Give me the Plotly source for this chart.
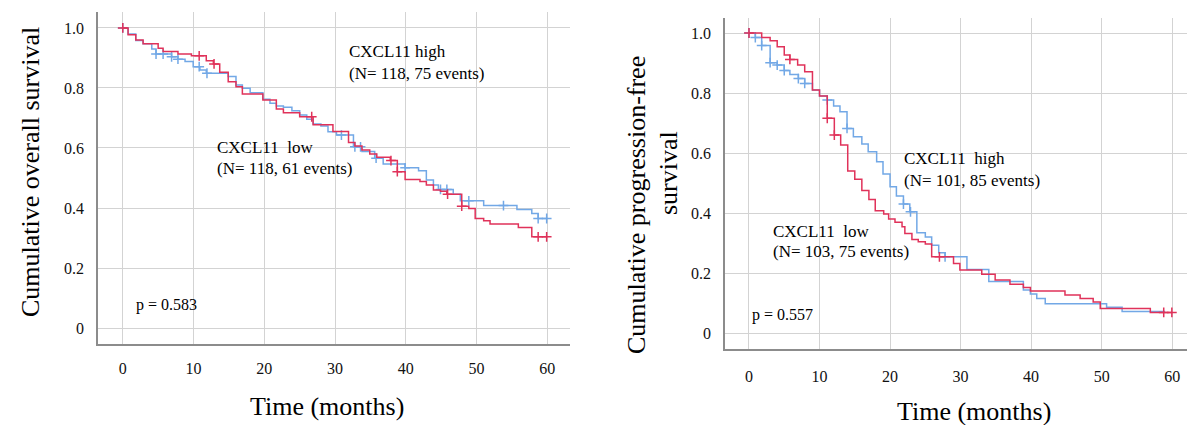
import numpy as np
import plotly.graph_objects as go

# ---------------- data ----------------
# Left panel: overall survival
os_high_t = [0, 0.75, 1.84, 2.87, 5.0, 5.7, 7.8, 9.7, 11.8, 12.8, 13.7, 14.9, 16.0, 16.9, 19.8, 21.7, 22.7,
             25.0, 26.9, 29.7, 31.9, 32.8, 33.8, 34.9, 35.9, 37.8, 38.8, 39.9, 42.0, 42.9, 43.9, 44.9, 45.8,
             47.9, 48.9, 49.8, 51.0, 51.9, 55.9, 57.8]
os_high_s = [1.0, 0.977, 0.96, 0.947, 0.932, 0.921, 0.913, 0.907, 0.891, 0.88, 0.852, 0.821, 0.804, 0.78, 0.76,
             0.73, 0.717, 0.704, 0.677, 0.655, 0.618, 0.607, 0.593, 0.58, 0.569, 0.558, 0.521, 0.495, 0.488,
             0.477, 0.46, 0.456, 0.446, 0.406, 0.398, 0.365, 0.358, 0.347, 0.335, 0.304]
os_high_cens = [0, 10.8, 12.9, 26.7, 37.9, 38.8, 45.9, 47.9, 58.7, 59.9]
os_high_end = 60.0

os_low_t = [0, 0.75, 1.84, 2.87, 4.1, 4.7, 6.9, 7.8, 8.8, 9.95, 10.9, 11.8, 14.9, 16.0, 16.9, 18.0, 19.8, 20.8,
            21.7, 22.7, 23.9, 25.0, 26.0, 26.9, 28.0, 29.0, 30.2, 32.6, 33.8, 35.6, 36.8, 39.9, 41.8, 42.9,
            43.9, 44.6, 46.7, 47.7, 51.0, 55.7, 57.8, 58.7]
os_low_s = [1.0, 0.98, 0.958, 0.947, 0.93, 0.913, 0.904, 0.896, 0.888, 0.871, 0.86, 0.849, 0.838, 0.81, 0.799,
            0.784, 0.762, 0.749, 0.74, 0.736, 0.724, 0.71, 0.696, 0.68, 0.673, 0.654, 0.643, 0.604, 0.588, 0.566,
            0.547, 0.534, 0.524, 0.493, 0.477, 0.462, 0.446, 0.424, 0.408, 0.395, 0.382, 0.365]
os_low_cens = [0, 4.7, 5.7, 6.9, 7.8, 10.8, 11.9, 30.9, 32.8, 33.6, 35.8, 39.9, 44.9, 45.8, 48.9, 53.8, 58.7, 59.9]
os_low_end = 60.0

# Right panel: progression-free survival
pfs_high_t = [0, 1.8, 3.0, 4.0, 5.0, 5.8, 6.9, 7.9, 9.0, 10.0, 11.1, 12.1, 13.0, 14.0, 15.0, 16.0, 17.0, 17.9,
              19.1, 19.8, 20.7, 21.7, 22.1, 23.1, 24.0, 25.0, 25.9, 29.0, 29.9, 33.0, 34.9, 37.0, 38.9, 39.9,
              44.8, 46.95, 48.8, 49.8, 56.9]
pfs_high_s = [1.0, 0.985, 0.974, 0.954, 0.927, 0.912, 0.893, 0.871, 0.81, 0.79, 0.716, 0.66, 0.627, 0.54, 0.513,
              0.475, 0.445, 0.408, 0.397, 0.38, 0.369, 0.354, 0.332, 0.312, 0.304, 0.297, 0.254, 0.232, 0.21,
              0.196, 0.177, 0.163, 0.152, 0.14, 0.127, 0.115, 0.104, 0.082, 0.069]
pfs_high_cens = [0, 5.8, 11.1, 12.1, 27.0, 58.8, 59.95]
pfs_high_end = 60.0

pfs_low_t = [0, 0.9, 1.8, 3.0, 4.0, 5.0, 5.8, 7.0, 7.9, 9.0, 10.0, 11.1, 12.0, 12.9, 13.9, 14.8, 16.0, 16.9,
             18.1, 19.0, 20.0, 20.9, 21.9, 22.8, 23.8, 25.0, 25.9, 26.9, 27.8, 30.9, 34.0, 38.9, 39.9, 40.8,
             42.0, 50.7, 52.9]
pfs_low_s = [1.0, 0.985, 0.958, 0.901, 0.893, 0.875, 0.862, 0.848, 0.832, 0.81, 0.79, 0.777, 0.757, 0.738,
             0.682, 0.654, 0.63, 0.604, 0.571, 0.53, 0.488, 0.457, 0.43, 0.404, 0.334, 0.32, 0.293, 0.268,
             0.254, 0.212, 0.172, 0.144, 0.13, 0.115, 0.098, 0.086, 0.072]
pfs_low_cens = [0, 0.9, 1.8, 3.0, 4.0, 5.0, 7.0, 7.9, 11.1, 13.9, 21.9, 22.9, 27.8]
pfs_low_end = 59.0

x_ticks = [0, 10, 20, 30, 40, 50, 60]
y_ticks = [0, 0.2, 0.4, 0.6, 0.8, 1.0]
y_ticktext = ["0", "0.2", "0.4", "0.6", "0.8", "1.0"]

RED = "#E0325A"
BLUE = "#72A8E6"
FONT = "Liberation Serif"
W, H = 1187, 425


def surv_at(t_list, s_list, t):
    idx = np.searchsorted(np.array(t_list), t, side="right") - 1
    return s_list[max(idx, 0)]


fig = go.Figure()


def add_curve(t, s, cens, end, color, name, xa, ya):
    fig.add_trace(go.Scatter(x=list(t) + [end], y=list(s) + [s[-1]], mode="lines",
                             line=dict(color=color, width=1.5, shape="hv"), name=name,
                             xaxis=xa, yaxis=ya, hoverinfo="skip"))
    fig.add_trace(go.Scatter(x=cens, y=[surv_at(t, s, c) for c in cens], mode="markers",
                             marker=dict(symbol="cross-thin", size=7, line=dict(color=color, width=1.5)),
                             name=name + " censored", xaxis=xa, yaxis=ya, hoverinfo="skip"))


add_curve(os_low_t, os_low_s, os_low_cens, os_low_end, BLUE, "CXCL11 low", "x", "y")
add_curve(os_high_t, os_high_s, os_high_cens, os_high_end, RED, "CXCL11 high", "x", "y")
add_curve(pfs_low_t, pfs_low_s, pfs_low_cens, pfs_low_end, BLUE, "CXCL11 low", "x2", "y2")
add_curve(pfs_high_t, pfs_high_s, pfs_high_cens, pfs_high_end, RED, "CXCL11 high", "x2", "y2")

axis_common = dict(showgrid=True, gridcolor="#d3d3d3", gridwidth=1, showline=True, linecolor="#8c8c8c",
                   linewidth=1.5, zeroline=False, ticks="", tickfont=dict(family=FONT, size=16, color="#111"),
                   fixedrange=True)

fig.update_layout(
    width=W, height=H, margin=dict(l=0, r=0, t=0, b=0),
    plot_bgcolor="white", paper_bgcolor="white", showlegend=False,
    font=dict(family=FONT, color="black"),
    xaxis=dict(domain=[98 / W, 570 / W], range=[-3.5, 63.2], tickvals=x_ticks, anchor="y",
               ticklabelstandoff=9, **axis_common),
    yaxis=dict(domain=[1 - 344 / H, 1 - 12 / H], range=[-0.053, 1.053], tickvals=y_ticks,
               ticktext=y_ticktext, anchor="x", ticklabelstandoff=9, **axis_common),
    xaxis2=dict(domain=[725 / W, 1.0], range=[-3.4, 62.1], tickvals=x_ticks, anchor="y2",
                ticklabelstandoff=12, **axis_common),
    yaxis2=dict(domain=[1 - 349 / H, 1 - 18 / H], range=[-0.053, 1.05], tickvals=y_ticks,
                ticktext=y_ticktext, anchor="x2", ticklabelstandoff=9, **axis_common),
)


def note(text, px, py, size=17, xanchor="left", angle=0):
    fig.add_annotation(text=text, x=px / W, y=1 - py / H, xref="paper", yref="paper",
                       xanchor=xanchor, yanchor="middle", showarrow=False, textangle=angle,
                       font=dict(family=FONT, size=size, color="black"))


# left panel texts
note("CXCL11 high", 347, 52)
note("(N= 118, 75 events)", 347, 74)
note("CXCL11\u00a0 low", 215, 148)
note("(N= 118, 61 events)", 215, 168)
note("p = 0.583", 134, 305, size=16)
note("Time (months)", 327, 406, size=26, xanchor="center")
note("Cumulative overall survival", 30, 172, size=26, xanchor="center", angle=-90)

# right panel texts
note("CXCL11\u00a0 high", 902, 158)
note("(N= 101, 85 events)", 902, 180)
note("CXCL11\u00a0 low", 771, 231)
note("(N= 103, 75 events)", 771, 251)
note("p = 0.557", 750, 315, size=16)
note("Time (months)", 974, 411, size=26, xanchor="center")
note("Cumulative progression-free", 636, 205, size=26, xanchor="center", angle=-90)
note("survival", 669, 173, size=26, xanchor="center", angle=-90)

fig.write_html("out.html", config={"displayModeBar": False},
               post_script="document.body.style.margin='0';document.body.style.padding='0';"
                           "document.body.style.overflow='hidden';")
